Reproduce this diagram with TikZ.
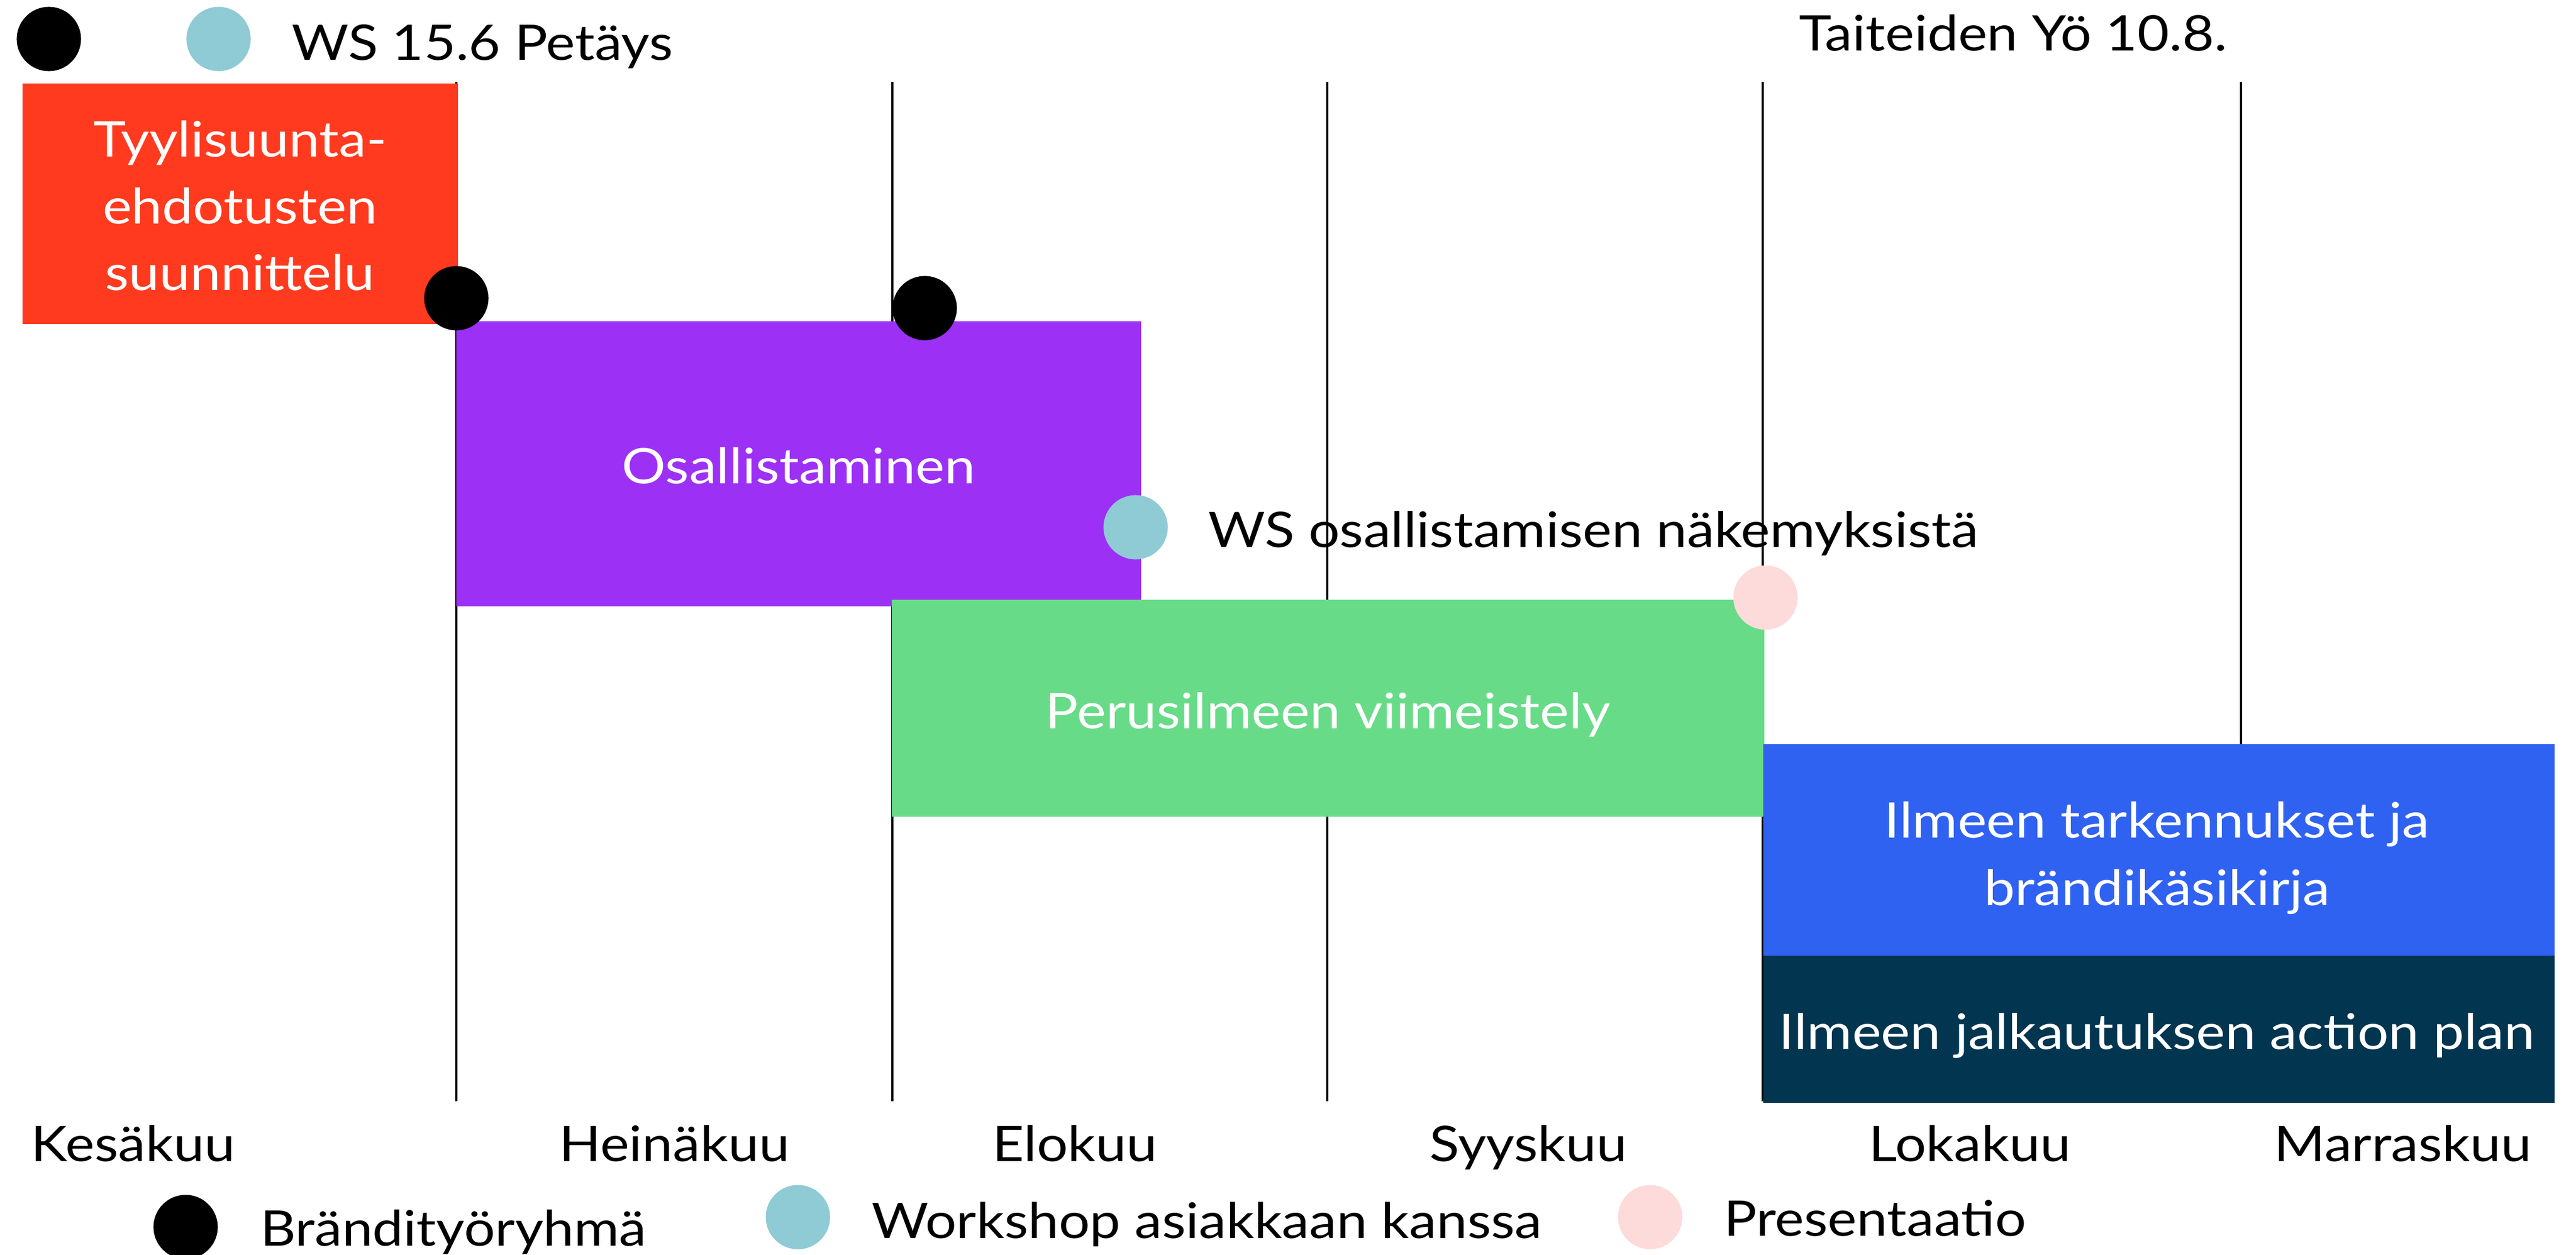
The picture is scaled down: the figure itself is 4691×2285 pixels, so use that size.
\documentclass[tikz,border=0pt]{standalone}
\usepackage{fontspec}
\setmainfont[FakeStretch=1.12]{Lato}
\definecolor{cRed}{RGB}{255,58,30}
\definecolor{cPurple}{RGB}{156,49,245}
\definecolor{cGreen}{RGB}{104,219,136}
\definecolor{cBlue}{RGB}{48,98,242}
\definecolor{cNavy}{RGB}{2,53,80}
\definecolor{cTeal}{RGB}{143,203,212}
\definecolor{cPink}{RGB}{253,219,219}
\begin{document}
\begin{tikzpicture}[x=0.01cm,y=-0.01cm,
  lbl/.style={font=\fontsize{25.4}{34.7}\selectfont, inner sep=0pt, outer sep=0pt},
  wlbl/.style={lbl,text=white},
  dot/.style={circle,minimum size=1.17cm,inner sep=0pt,outer sep=0pt},
  bar/.style={inner sep=0pt,outer sep=0pt},
  gridline/.style={line width=0.9pt,black}]
\useasboundingbox[fill=white] (0,0) rectangle (4691,2285);
% month grid
\foreach \n/\x in {1/831,2/1625,3/2417,4/3210,5/4081}{
  \coordinate (t\n) at (\x,149);
  \coordinate (b\n) at (\x,2005);
  \draw[gridline] (t\n) -- (b\n);
}
% bars
\node[bar,fill=cRed,minimum width=7.93cm,minimum height=4.38cm] (red) at (437.5,371) {};
\node[bar,fill=cPurple,minimum width=12.47cm,minimum height=5.19cm] (purple) at (1454.5,844.5) {};
\node[bar,fill=cGreen,minimum width=15.88cm,minimum height=3.95cm] (green) at (2418,1289.5) {};
\node[bar,fill=cBlue,minimum width=14.41cm,minimum height=3.85cm] (blue) at (3931.5,1547.5) {};
\node[bar,fill=cNavy,minimum width=14.41cm,minimum height=2.68cm] (navy) at (3931.5,1874) {};
% bar labels
\node[wlbl,anchor=base] (r1) at (437,285) {Tyylisuunta-};
\node[wlbl,anchor=base] (r2) at (437,407) {ehdotusten};
\node[wlbl,anchor=base] (r3) at (437,528) {suunnittelu};
\node[wlbl,anchor=base] (p1) at (1454,880) {Osallistaminen};
\node[wlbl,anchor=base] (g1) at (2418,1326) {Perusilmeen viimeistely};
\node[wlbl,anchor=base] (bl1) at (3928,1525) {Ilmeen tarkennukset ja};
\node[wlbl,anchor=base] (bl2) at (3928,1648) {brändikäsikirja};
\node[wlbl,anchor=base] (n1) at (3928,1910) {Ilmeen jalkautuksen action plan};
% milestone dots
\node[dot,fill=black] (d1) at (89,71) {};
\node[dot,fill=cTeal] (d2) at (398,71) {};
\node[dot,fill=black] (d3) at (831,543) {};
\node[dot,fill=black] (d4) at (1684,561) {};
\node[dot,fill=cTeal] (d5) at (2068,960) {};
\node[dot,fill=cPink] (d6) at (3215,1088) {};
% annotations
\node[lbl,anchor=base west] (a1) at (531,110) {WS 15.6 Petäys};
\node[lbl,anchor=base west] (a2) at (3276,93) {Taiteiden Yö 10.8.};
\node[lbl,anchor=base west] (a3) at (2200,996) {WS osallistamisen näkemyksistä};
% months
\node[lbl,anchor=base west] (m1) at (57,2114) {Kesäkuu};
\node[lbl,anchor=base] (m2) at (1228,2114) {Heinäkuu};
\node[lbl,anchor=base] (m3) at (1957,2114) {Elokuu};
\node[lbl,anchor=base] (m4) at (2783,2114) {Syyskuu};
\node[lbl,anchor=base] (m5) at (3587,2114) {Lokakuu};
\node[lbl,anchor=base east] (m6) at (4610,2114) {Marraskuu};
% legend
\node[dot,fill=black] (l1) at (338,2234) {};
\node[lbl,anchor=base west] (lt1) at (474,2268) {Brändityöryhmä};
\node[dot,fill=cTeal] (l2) at (1453,2216) {};
\node[lbl,anchor=base west] (lt2) at (1587,2254) {Workshop asiakkaan kanssa};
\node[dot,fill=cPink] (l3) at (3005,2216) {};
\node[lbl,anchor=base west] (lt3) at (3139,2250) {Presentaatio};
\end{tikzpicture}
\end{document}
